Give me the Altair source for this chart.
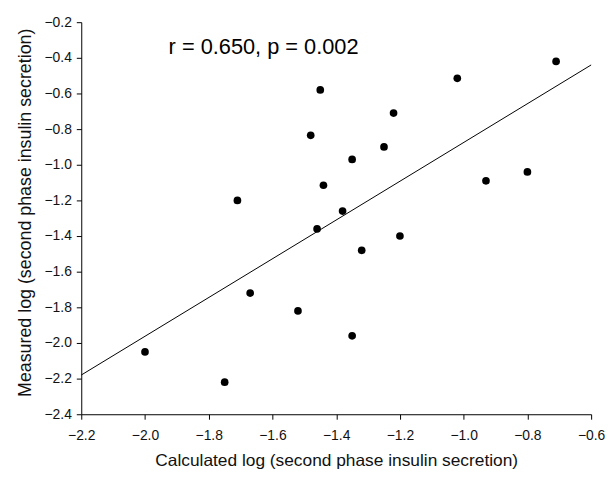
import altair as alt
import pandas as pd

calc = [-0.71, -1.02, -1.45, -1.22, -1.48, -1.25, -1.35, -0.80, -0.93, -1.44,
        -1.71, -1.38, -1.46, -1.20, -1.32, -1.67, -1.52, -1.35, -2.00, -1.75]
meas = [-0.42, -0.515, -0.58, -0.71, -0.835, -0.90, -0.97, -1.04, -1.09, -1.115,
        -1.20, -1.26, -1.36, -1.40, -1.48, -1.72, -1.82, -1.96, -2.05, -2.22]

fit_x = [-2.2, -0.6]
fit_y = [-2.18, -0.44]

x_ticks = [-2.2, -2.0, -1.8, -1.6, -1.4, -1.2, -1.0, -0.8, -0.6]
y_ticks = [-0.2, -0.4, -0.6, -0.8, -1.0, -1.2, -1.4, -1.6, -1.8, -2.0, -2.2, -2.4]

annot_text = ["r = 0.650, p = 0.002"]
annot_x = [-1.926]
annot_y = [-0.376]

pts = pd.DataFrame({"x": calc, "y": meas})
fit = pd.DataFrame({"x": fit_x, "y": fit_y})
ann = pd.DataFrame({"x": annot_x, "y": annot_y, "t": annot_text})

FONT = "Liberation Sans"

xs = alt.Scale(domain=[-2.2, -0.6], nice=False, zero=False)
ys = alt.Scale(domain=[-2.4, -0.2], nice=False, zero=False)

xaxis = alt.Axis(values=x_ticks, format=".1f", title="Calculated log (second phase insulin secretion)",
                 grid=False, domainColor="#000", tickColor="#000", tickSize=5,
                 labelFontSize=14, labelColor="#111", labelPadding=10, labelFont=FONT,
                 labelOverlap=False, labelFlush=False,
                 titleFont=FONT, titleFontSize=17.5, titleFontWeight="normal", titleColor="#111",
                 titleBaseline="alphabetic", titleY=52)
yaxis = alt.Axis(values=y_ticks, format=".1f", title="Measured log (second phase insulin secretion)",
                 grid=False, domainColor="#000", tickColor="#000", tickSize=5,
                 labelFontSize=14, labelColor="#111", labelPadding=5, labelFont=FONT,
                 labelOverlap=False, labelFlush=False,
                 titleFont=FONT, titleFontSize=18, titleFontWeight="normal", titleColor="#111",
                 titleBaseline="middle", titleX=-56, titleY=192)

X = alt.X("x:Q", scale=xs, axis=xaxis)
Y = alt.Y("y:Q", scale=ys, axis=yaxis)

line = alt.Chart(fit).mark_line(color="#000", strokeWidth=1).encode(x=X, y=Y)

points = alt.Chart(pts).mark_circle(color="#000", opacity=1, size=60).encode(x=X, y=Y)

text = alt.Chart(ann).mark_text(align="left", baseline="alphabetic", fontSize=22,
                                font=FONT, color="#000").encode(x=X, y=Y, text="t:N")

chart = alt.layer(line, points, text).properties(
    width=515, height=396,
    autosize=alt.AutoSizeParams(type="none"),
    padding={"left": 74, "top": 12, "right": 14, "bottom": 56},
).configure_view(stroke=None).configure_axis(labelOverlap=False)

chart.save("out.html", embed_options={"renderer": "svg", "actions": False})
